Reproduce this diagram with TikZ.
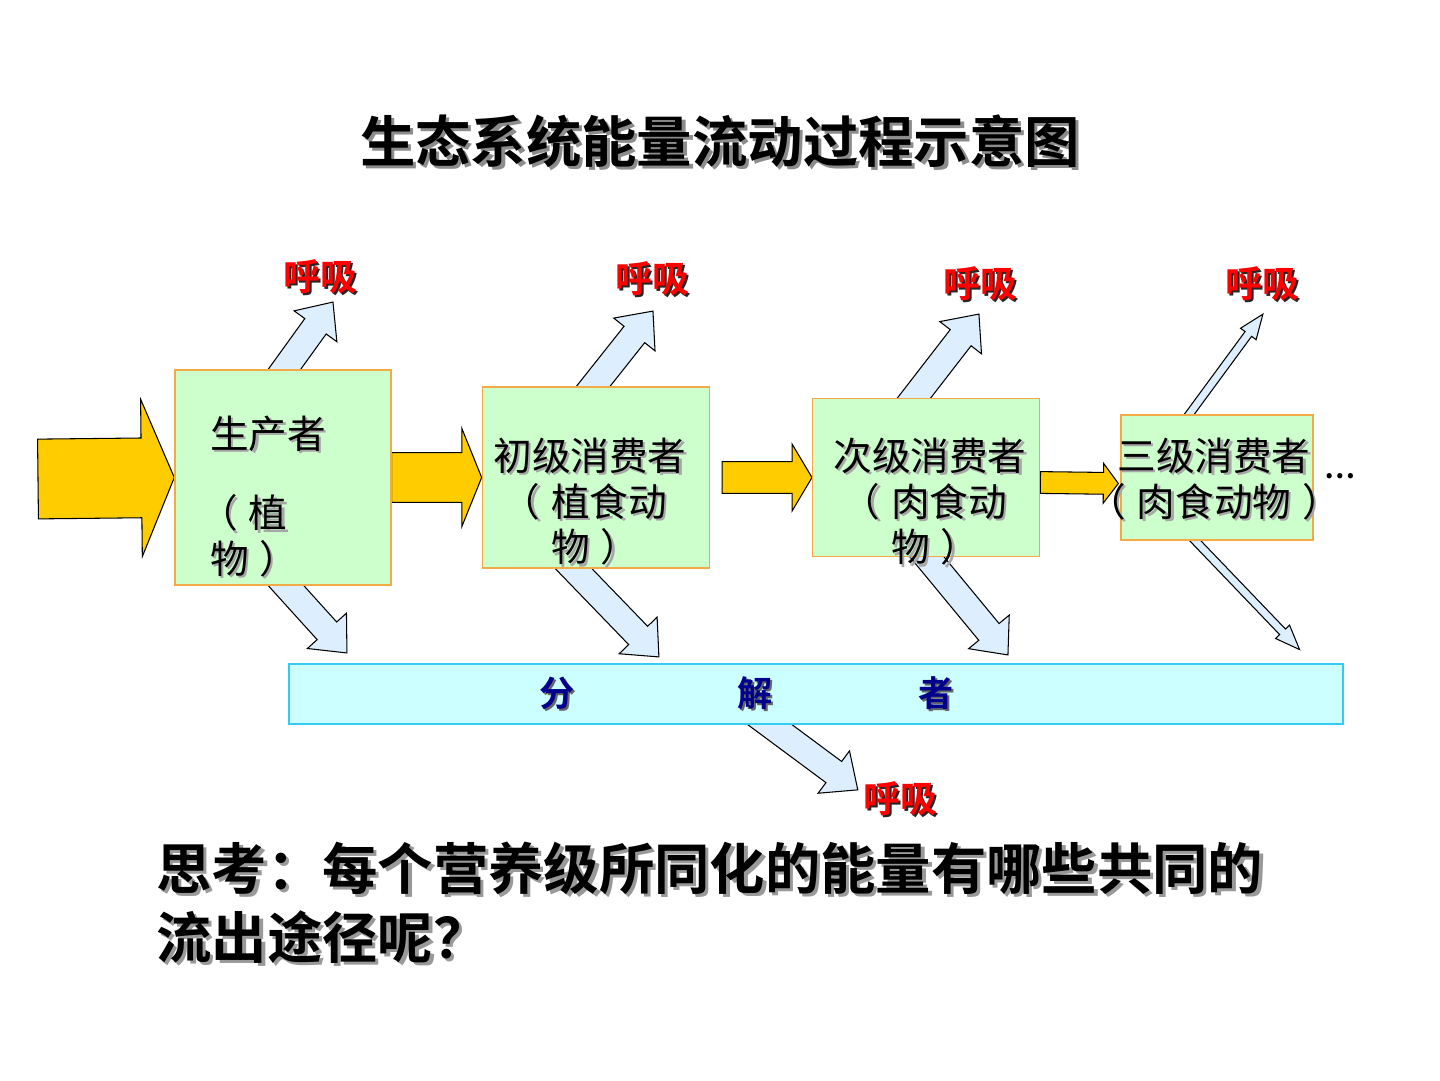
\documentclass[tikz,border=0pt]{standalone}
\usepackage{fontspec}
\setmainfont{Noto Sans CJK SC}[BoldFont={Noto Sans CJK SC Bold}]
\usetikzlibrary{positioning,calc,decorations.markings,backgrounds}
\definecolor{flowyellow}{RGB}{255,204,0}
\definecolor{boxgreen}{RGB}{204,255,204}
\definecolor{boxorange}{RGB}{242,170,70}
\definecolor{decocyan}{RGB}{204,255,255}
\definecolor{decoedge}{RGB}{51,204,238}
\definecolor{breathblue}{RGB}{221,238,255}
\definecolor{decoblue}{RGB}{0,0,140}
\newcommand{\shd}[2][black!35]{\leavevmode\rlap{\kern0.06em\raisebox{-0.06em}{\textcolor{#1}{#2}}}#2}
\newcommand{\lp}{\makebox[1em][l]{\kern-0.28em（}}
\newcommand{\rp}{\makebox[1em][l]{\kern0.28em）}}

\tikzset{
  blockarrow/.style n args={4}{postaction={decorate,decoration={markings,
    mark=at position 0 with {\filldraw[fill=#4,draw=black,line width=0.6pt,line join=miter]
      (0pt,#1) -- ({\pgfdecoratedpathlength-#3},#1) -- ({\pgfdecoratedpathlength-#3},#2)
      -- ({\pgfdecoratedpathlength+0pt},0pt) -- ({\pgfdecoratedpathlength-#3},-#2)
      -- ({\pgfdecoratedpathlength-#3},-#1) -- (0pt,-#1) -- cycle;}}}},
  energy/.style n args={3}{blockarrow={#1}{#2}{#3}{flowyellow}},
  breath/.style={blockarrow={7.5pt}{15pt}{17pt}{breathblue}},
  thinbreath/.style={blockarrow={2.3pt}{5.5pt}{14pt}{breathblue}},
  level/.style={draw=boxorange,fill=boxgreen,line width=0.8pt,inner sep=0pt},
  leveltext/.style={font=\fontsize{22}{26}\selectfont,align=center},
  resp/.style={font=\fontsize{21}{24}\selectfont\bfseries,text=red},
}

\begin{document}
\begin{tikzpicture}[x=0.02cm,y=-0.02cm]
\useasboundingbox (0,0) rectangle (1440,1080);

\node[font=\fontsize{31.5}{36}\selectfont\bfseries] (title) at (720,143) {\shd[black!45]{生态系统能量流动过程示意图}};

% trophic levels
\node[level,minimum width=4.32cm,minimum height=4.30cm] (b1) at (283,477.5) {};
\node[level,minimum width=4.54cm,minimum height=3.62cm,right=1.8cm of b1] (b2) {};
\node[level,minimum width=4.54cm,minimum height=3.16cm,right=2.04cm of b2] (b3) {};
\node[level,minimum width=3.84cm,minimum height=2.50cm,right=1.6cm of b3] (b4) {};

\node[leveltext,anchor=west] (t1a) at (204,435) {\shd{生产者}};
\node[leveltext,anchor=west,align=left] (t1b) at (204,537) {\shd{\lp 植}\\\shd{物\rp}};
\node[leveltext] (t2) at (590,503) {\shd{初级消费者}\\\shd{\lp 植食动}\\\shd{物\rp}};
\node[leveltext] (t3) at (930,503) {\shd{次级消费者}\\\shd{\lp 肉食动}\\\shd{物\rp}};
\node[leveltext] (t4) at (1214,480) {\shd{三级消费者}\\\shd{\lp 肉食动物\rp}};
\node[font=\fontsize{16}{18}\selectfont\bfseries] (more) at (1340,476) {…};

% decomposers
\node[draw=decoedge,fill=decocyan,line width=0.8pt,minimum width=21.08cm,minimum height=1.2cm] (dec) at (816,694) {};
\node[font=\fontsize{20}{24}\selectfont\bfseries,text=decoblue,anchor=west] (dectext) at (533,694)
  {\shd[black!60]{分}\hspace{93pt}\shd[black!60]{解}\hspace{83pt}\shd[black!60]{者}};

% respiration
\node[resp] (r1) at (320,278) {\shd[black!85]{呼吸}};
\node[resp] (r2) at (652,280) {\shd[black!85]{呼吸}};
\node[resp] (r3) at (980,285) {\shd[black!85]{呼吸}};
\node[resp] (r4) at (1262,285) {\shd[black!85]{呼吸}};
\node[resp] (r5) at (900,800) {\shd[black!85]{呼吸}};

\coordinate (sun) at (38,479);
\coordinate (u1) at (333,302);
\coordinate (u2) at (653,311);
\coordinate (u3) at (979,314);
\coordinate (u4) at (1263,314);
\coordinate (u5) at (858,790);
\coordinate (d1) at (347,653);
\coordinate (d2) at (659,657);
\coordinate (d3) at (1008,655);
\coordinate (d4) at (1300,650);

\begin{scope}[on background layer]
\path[energy={22.7pt}{44.8pt}{18.7pt}] (sun) -- (b1.west);
\path[energy={14.2pt}{28pt}{11.3pt}] (b1.east) -- (b2.west);
\path[energy={9pt}{19pt}{11.3pt}] ($(b2.east)+(12,0)$) -- (b3.west);
\path[energy={6.2pt}{11.3pt}{8.5pt}] ($(b3.east)+(0,5)$) -- ($(b4.west)+(-2,6)$);

\path[breath] ($(b1.north)+(-13,20)$) -- (u1);
\path[breath] ($(b1.south)+(-15,-20)$) -- (d1);
\path[breath] ($(b2.north)+(-18.5,20)$) -- (u2);
\path[breath] ($(b2.south)+(-41.5,-20)$) -- (d2);
\path[breath] ($(b3.north)+(-27.5,20)$) -- (u3);
\path[breath] ($(b3.south)+(-15.5,-20)$) -- (d3);
\path[thinbreath] ($(b4.north)+(-41,18)$) -- (u4);
\path[thinbreath] ($(b4.south)+(-41,-20)$) -- (d4);
\path[breath] ($(dec.south)+(-73,-20)$) -- (u5);
\end{scope}

\node[font=\fontsize{31.5}{39}\selectfont\bfseries,align=left,anchor=base west,inner sep=0pt] (question) at (156,958)
  {\shd[black!40]{思考：每个营养级所同化的能量有哪些共同的}\\\shd[black!40]{流出途径呢？}};

\end{tikzpicture}
\end{document}
